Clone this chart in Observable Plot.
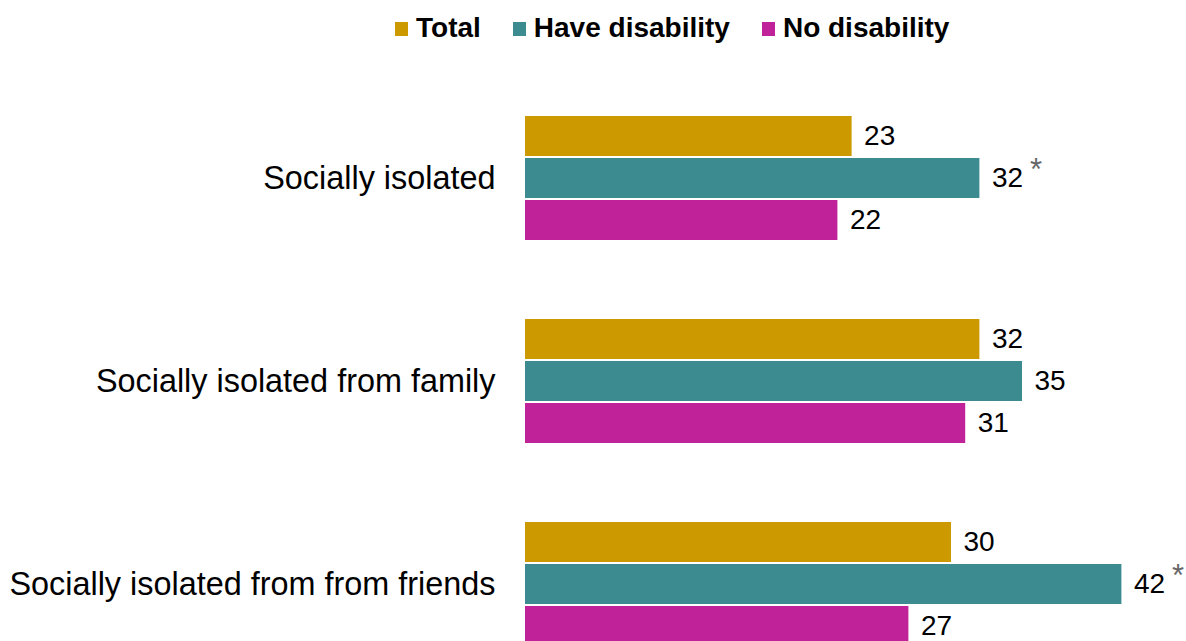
<!DOCTYPE html>
<html>
<head>
<meta charset="utf-8">
<script src="https://cdn.jsdelivr.net/npm/d3@7"></script>
<script src="https://cdn.jsdelivr.net/npm/@observablehq/plot@0.6"></script>
<style>
  html, body { margin: 0; padding: 0; background: #fff; overflow: hidden; }
  body { font-family: "Liberation Sans", Arial, sans-serif; }
  #legend { height: 55px; display: flex; align-items: center; padding-left: 395px; box-sizing: border-box; }
  .item { display: flex; align-items: center; margin-right: 32px; font-weight: bold; font-size: 28px; color: #000; }
  .sw { width: 13px; height: 14px; margin-right: 8px; margin-top: 3px; }
</style>
</head>
<body>
<div id="legend"></div>
<div id="chart"></div>
<script>
const categories = ["Socially isolated", "Socially isolated from family", "Socially isolated from from friends"];
const series = ["Total", "Have disability", "No disability"];
const colors = ["#cc9a00", "#3c8b91", "#bf2299"];
const totalValues = [23, 32, 30];
const haveDisabilityValues = [32, 35, 42];
const noDisabilityValues = [22, 31, 27];
const haveDisabilitySignificant = [true, false, true];

const seriesValues = [totalValues, haveDisabilityValues, noDisabilityValues];
const data = [];
categories.forEach((c, i) => {
  series.forEach((s, j) => {
    data.push({
      category: c,
      series: s,
      value: seriesValues[j][i],
      sig: j === 1 && haveDisabilitySignificant[i]
    });
  });
});

// legend
const legend = document.getElementById("legend");
series.forEach((s, j) => {
  const item = document.createElement("div");
  item.className = "item";
  const sw = document.createElement("div");
  sw.className = "sw";
  sw.style.background = colors[j];
  const t = document.createElement("span");
  t.textContent = s;
  item.appendChild(sw);
  item.appendChild(t);
  legend.appendChild(item);
});

const font = "Liberation Sans, Arial, sans-serif";
const chart = Plot.plot({
  width: 1186,
  height: 660,
  marginLeft: 525,
  marginRight: 22,
  marginTop: 21,
  marginBottom: 28,
  style: { fontFamily: font, background: "#fff" },
  x: { domain: [0, 45], axis: null },
  y: { domain: series, axis: null, paddingInner: 0.043, paddingOuter: 0.929 },
  fy: { domain: categories, axis: null, padding: 0 },
  color: { domain: series, range: colors },
  marks: [
    Plot.barX(data, { x: "value", y: "series", fy: "category", fill: "series" }),
    Plot.text(data, { x: "value", y: "series", fy: "category", text: d => String(d.value), textAnchor: "start", dx: 12, fontSize: 28, fill: "#000" }),
    Plot.text(data.filter(d => d.sig), { x: "value", y: "series", fy: "category", text: () => "*", textAnchor: "start", dx: 50, dy: -8, fontSize: 31, fill: "#666" }),
    Plot.text(categories, { fy: d => d, text: d => d, frameAnchor: "left", textAnchor: "end", dx: -30, fontSize: 32.4, fill: "#000" })
  ]
});
document.getElementById("chart").appendChild(chart);
</script>
</body>
</html>
